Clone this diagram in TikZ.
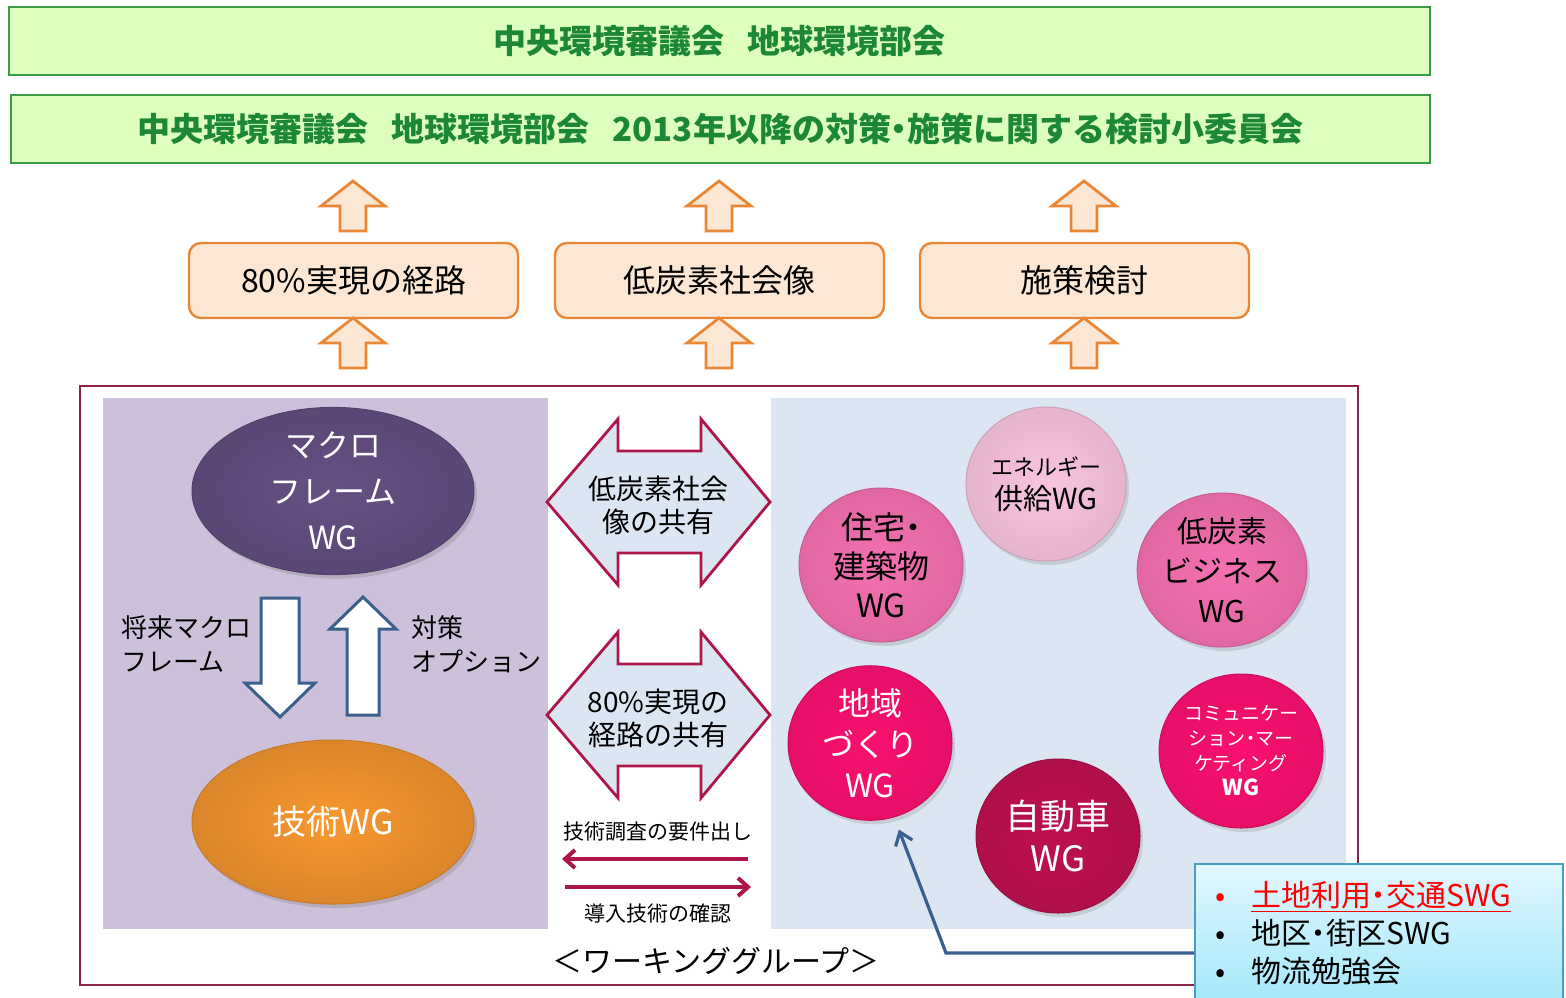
\documentclass[tikz,border=0pt]{standalone}
\usepackage{fontspec}
\setmainfont{Noto Sans CJK JP}
\usepackage{xcolor}
\usepackage{tikz}
\usetikzlibrary{positioning,arrows.meta,shapes,calc,shadows}

\definecolor{titlefill}{RGB}{222,254,190}
\definecolor{titleline}{RGB}{60,155,70}
\definecolor{titletext}{RGB}{28,135,52}
\definecolor{peach}{RGB}{252,230,212}
\definecolor{peachline}{RGB}{234,135,55}
\definecolor{frameline}{RGB}{140,35,75}
\definecolor{lilac}{RGB}{204,192,218}
\definecolor{paleblue}{RGB}{220,230,242}
\definecolor{macropurple}{RGB}{102,80,132}
\definecolor{techorange}{RGB}{248,152,48}
\definecolor{steelblue}{RGB}{60,96,140}
\definecolor{crimson}{RGB}{172,22,74}
\definecolor{pinklight}{RGB}{250,196,224}
\definecolor{pinkmid}{RGB}{244,112,176}
\definecolor{pinkhot}{RGB}{250,16,112}
\definecolor{pinkdeep}{RGB}{190,16,80}
\definecolor{calloutline}{RGB}{70,160,190}
\definecolor{callouttop}{RGB}{226,247,255}
\definecolor{calloutbot}{RGB}{165,232,250}
\definecolor{connblue}{RGB}{58,95,145}

% narrow middle dot
\newcommand{\dotsep}{\makebox[0.5em][c]{・}}
% hollow block arrow: style, x, tip y, base y, head half width, shaft half width, head length
\newcommand{\blockarrow}[7]{%
  \draw[#1] (#2,#3) -- (#2+#5,#3+#7) -- (#2+#6,#3+#7) -- (#2+#6,#4)
    -- (#2-#6,#4) -- (#2-#6,#3+#7) -- (#2-#5,#3+#7) -- cycle;}
% two-headed exchange arrow around a centre y
\newcommand{\sharearrow}[1]{%
  \draw[sharebox] (547,#1) -- (618,#1-83) -- (618,#1-51) -- (701,#1-51) -- (701,#1-83)
    -- (770,#1) -- (701,#1+83) -- (701,#1+51) -- (618,#1+51) -- (618,#1+83) -- cycle;}

\begin{document}
\begin{tikzpicture}[x=0.5pt,y=-0.5pt,
    titlebox/.style={draw=titleline, line width=0.8pt, fill=titlefill, minimum height=34pt,
      text=titletext, font=\bfseries\fontsize{16.5}{20}\selectfont},
    topicbox/.style={draw=peachline, line width=1.2pt, fill=peach, rounded corners=6pt,
      minimum width=164.5pt, minimum height=37.5pt, font=\fontsize{16}{20}\selectfont},
    uparrow/.style={draw=peachline, line width=1.4pt, fill=peach, line join=miter},
    panel/.style={inner sep=0pt, minimum height=265.5pt},
    wgoval/.style={ellipse, inner sep=0pt, minimum width=141pt, minimum height=82pt,
      text=white, align=center, inner color=#1, outer color=#1!88!black,
      draw=#1!80!black, line width=0.5pt,
      drop shadow={opacity=0.3, shadow xshift=1.5pt, shadow yshift=-2pt}},
    flowarrow/.style={draw=steelblue, line width=1.5pt, fill=white, line join=miter},
    flowlabel/.style={anchor=west, align=left, font=\fontsize{13}{17}\selectfont},
    sharebox/.style={draw=crimson, line width=1.4pt, fill=paleblue, line join=miter},
    sharetext/.style={align=center, font=\fontsize{14}{16.5}\selectfont},
    smalllabel/.style={font=\fontsize{10.5}{12}\selectfont},
    reqarrow/.style={draw=crimson, line width=2pt, -{Straight Barb[length=5pt,width=9pt]}},
    wgball/.style={ellipse, inner sep=0pt, minimum width=82pt, minimum height=77pt, align=center,
      inner color=#1, outer color=#1!92!black, draw=#1!82!black, line width=0.5pt,
      drop shadow={opacity=0.25, shadow xshift=1.5pt, shadow yshift=-2pt}},
    callout/.style={draw=calloutline, line width=1.2pt, top color=callouttop, bottom color=calloutbot,
      minimum width=184pt, minimum height=68.5pt, inner xsep=10pt, text width=164pt, align=left,
      font=\fontsize{15}{19}\selectfont},
    linkarrow/.style={draw=connblue, line width=1.6pt, -{Straight Barb[length=6pt,width=9pt]}}]
    \useasboundingbox (0,0) rectangle (1566,997);

    % Council boxes
    \node[titlebox, minimum width=710.5pt] (bukai) at (719.5,41) {中央環境審議会\hspace{0.7em}地球環境部会};
    \node[titlebox, minimum width=709.5pt] (iinkai) at (720.5,129)
      {中央環境審議会\hspace{0.7em}地球環境部会\hspace{0.7em}2013年以降の対策\dotsep 施策に関する検討小委員会};

    % Topics and arrows
    \node[topicbox] (route) at (353.5,280.5) {80\%実現の経路};
    \node[topicbox] (vision) at (719.5,280.5) {低炭素社会像};
    \node[topicbox] (policy) at (1084.5,280.5) {施策検討};
    \foreach \x in {353,719,1084} {
        \blockarrow{uparrow}{\x}{181}{231}{32}{13}{25}
        \blockarrow{uparrow}{\x}{318}{368}{32}{13}{25}
    }

    % Working group frame
    \draw[frameline, line width=0.7pt, fill=white] (80,386) rectangle (1358,985);
    \node[panel, fill=lilac, minimum width=222.5pt] (macropanel) at (325.5,663.5) {};
    \node[panel, fill=paleblue, minimum width=287.5pt] (wgpanel) at (1058.5,663.5) {};

    % Macro frame and technology
    \node[wgoval=macropurple, font=\fontsize{16}{23}\selectfont] (macro) at (333,491) {マクロ\\フレーム\\WG};
    \node[wgoval=techorange, font=\fontsize{17}{20}\selectfont] (tech) at (333,822) {技術WG};
    \blockarrow{flowarrow}{280}{717}{598}{35}{19}{-34}
    \blockarrow{flowarrow}{363}{597}{715}{33}{16}{32}
    \node[flowlabel] (future) at (114,644) {将来マクロ\\フレーム};
    \node[flowlabel] (options) at (404,644) {対策\\オプション};

    % Shared items
    \sharearrow{502}
    \sharearrow{715}
    \node[sharetext] (share1) at (658,505) {低炭素社会\\像の共有};
    \node[sharetext] (share2) at (658,718) {80\%実現の\\経路の共有};
    \node[smalllabel] (reqlabel) at (658,832) {技術調査の要件出し};
    \node[smalllabel] (chklabel) at (658,913) {導入技術の確認};
    \coordinate (reqR) at (748,859);
    \coordinate (reqL) at (562,859);
    \coordinate (chkL) at (565,887);
    \coordinate (chkR) at (751,887);
    \draw[reqarrow] (reqR) -- (reqL);
    \draw[reqarrow] (chkL) -- (chkR);
    \node[font=\fontsize{15}{18}\selectfont] (wgcaption) at (716,961) {＜ワーキンググループ＞};

    % Sector WGs
    \node[wgball=pinklight, font=\fontsize{14.5}{17}\selectfont, minimum width=80pt, minimum height=77pt] (energy) at (1046,484)
      {{\fontsize{11}{13}\selectfont エネルギー}\\供給WG};
    \node[wgball=pinkmid, font=\fontsize{16}{19.5}\selectfont] (house) at (881,565) {住宅\dotsep\\建築物\\WG};
    \node[wgball=pinkmid, font=\fontsize{15}{20}\selectfont] (business) at (1222,570) {低炭素\\ビジネス\\WG};
    \node[wgball=pinkhot, text=white, font=\fontsize{16}{20.5}\selectfont] (region) at (870,743) {地域\\づくり\\WG};
    \node[wgball=pinkdeep, text=white, font=\fontsize{17.5}{21}\selectfont] (car) at (1058,836) {自動車\\WG};
    \node[wgball=pinkhot, text=white, font=\fontsize{9.5}{12.5}\selectfont] (comm) at (1241,751)
      {コミュニケー\\ション\dotsep マー\\ケティング\\{\bfseries\fontsize{11}{13}\selectfont WG}};

    % Sub working groups
    \node[callout, anchor=north west] (subgroups) at (1194,863)
      {{\color{red}\makebox[18pt][l]{\textbullet}\underline{土地利用\dotsep 交通SWG}}\\
       \makebox[18pt][l]{\textbullet}地区\dotsep 街区SWG\\
       \makebox[18pt][l]{\textbullet}物流勉強会};
    \coordinate (elbow) at (946,953);
    \draw[linkarrow, shorten >=6.5pt] (subgroups.west |- elbow) -- (elbow) -- (region.-72);
\end{tikzpicture}
\end{document}
